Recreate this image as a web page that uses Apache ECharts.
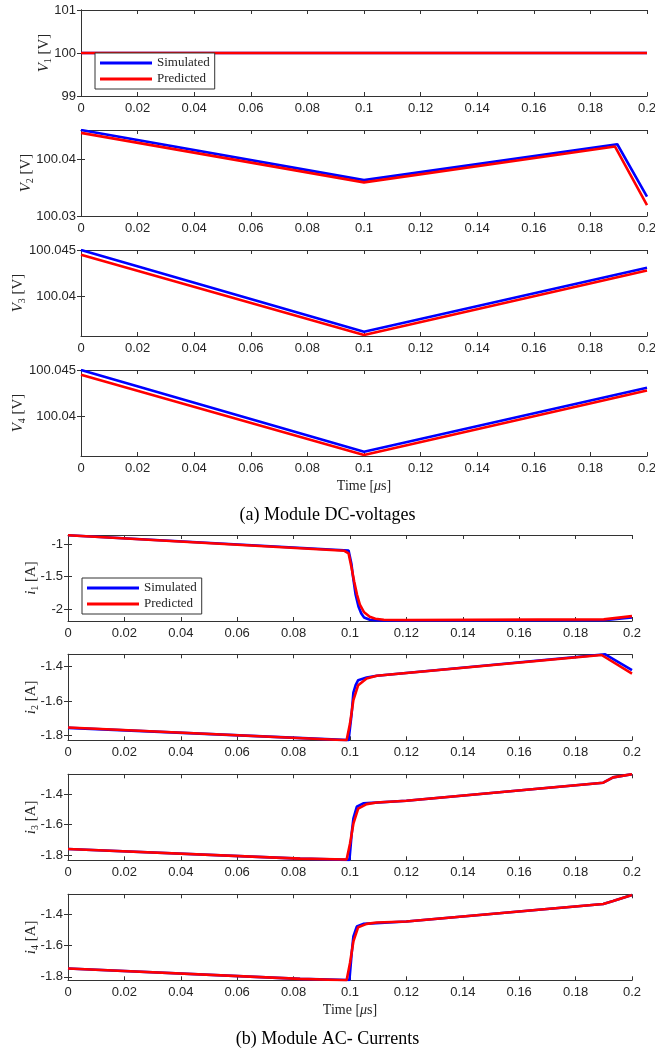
<!DOCTYPE html>
<html><head><meta charset="utf-8">
<script src="https://cdn.jsdelivr.net/npm/echarts@6/dist/echarts.min.js"></script>
<style>html,body{margin:0;padding:0;background:#fff}#c{width:655px;height:1053px}</style>
</head><body><div id="c"></div><script>
// ---------- data ----------
const seriesNames = ['Simulated', 'Predicted'];
const xMin = 0, xMax = 0.2, xStep = 0.02;

const v1Ticks = [99, 100, 101];
const v2Ticks = [100.03, 100.04];
const v3Ticks = [100.04, 100.045];
const v4Ticks = [100.04, 100.045];
const i1Ticks = [-2, -1.5, -1];
const i2Ticks = [-1.8, -1.6, -1.4];
const i3Ticks = [-1.8, -1.6, -1.4];
const i4Ticks = [-1.8, -1.6, -1.4];

const v1SimT = [0, 0.2];
const v1Sim = [100, 100];
const v1PredT = [0, 0.2];
const v1Pred = [100, 100];

const v2SimT = [0, 0.1, 0.1895, 0.2];
const v2Sim = [100.0451, 100.0363, 100.0426, 100.0334];
const v2PredT = [0, 0.1, 0.1887, 0.2];
const v2Pred = [100.0446, 100.0359, 100.0422, 100.0319];

const v3SimT = [0, 0.1, 0.2];
const v3Sim = [100.045, 100.03625, 100.0431];
const v3PredT = [0, 0.1, 0.2];
const v3Pred = [100.0445, 100.0359, 100.0428];

const v4SimT = [0, 0.1, 0.2];
const v4Sim = [100.045, 100.03625, 100.0431];
const v4PredT = [0, 0.1, 0.2];
const v4Pred = [100.0445, 100.0359, 100.0428];

const i1SimT = [0, 0.0995, 0.1, 0.1005, 0.101, 0.102, 0.103, 0.104, 0.105, 0.107, 0.11, 0.19, 0.2];
const i1Sim = [-0.86, -1.095, -1.12, -1.30, -1.48, -1.78, -1.96, -2.07, -2.13, -2.165, -2.175, -2.172, -2.13];
const i1PredT = [0, 0.098, 0.0995, 0.1005, 0.1015, 0.1025, 0.1035, 0.105, 0.107, 0.109, 0.112, 0.12, 0.19, 0.2];
const i1Pred = [-0.86, -1.10, -1.14, -1.35, -1.58, -1.78, -1.93, -2.05, -2.12, -2.15, -2.165, -2.17, -2.16, -2.11];

const i2SimT = [0, 0.0995, 0.1, 0.1006, 0.1012, 0.102, 0.1029, 0.1059, 0.1095, 0.1905, 0.2];
const i2Sim = [-1.755, -1.826, -1.828, -1.67, -1.55, -1.507, -1.478, -1.463, -1.452, -1.328, -1.42];
const i2PredT = [0, 0.0988, 0.1, 0.1012, 0.1029, 0.1059, 0.1095, 0.1892, 0.2];
const i2Pred = [-1.753, -1.827, -1.73, -1.594, -1.507, -1.468, -1.452, -1.332, -1.44];

const i3SimT = [0, 0.0823, 0.0998, 0.1, 0.1006, 0.1012, 0.1024, 0.1047, 0.12, 0.1898, 0.1933, 0.2];
const i3Sim = [-1.759, -1.822, -1.830, -1.833, -1.658, -1.56, -1.483, -1.461, -1.444, -1.326, -1.291, -1.27];
const i3PredT = [0, 0.0823, 0.0988, 0.1, 0.1012, 0.1029, 0.1059, 0.1095, 0.12, 0.1898, 0.1933, 0.2];
const i3Pred = [-1.759, -1.822, -1.828, -1.725, -1.594, -1.495, -1.466, -1.455, -1.444, -1.326, -1.291, -1.27];

const i4SimT = [0, 0.0823, 0.0998, 0.1, 0.1006, 0.1012, 0.1024, 0.1047, 0.12, 0.1898, 0.1933, 0.2];
const i4Sim = [-1.747, -1.813, -1.820, -1.822, -1.648, -1.542, -1.479, -1.462, -1.447, -1.335, -1.316, -1.277];
const i4PredT = [0, 0.0823, 0.0988, 0.1, 0.1012, 0.1029, 0.1059, 0.1095, 0.12, 0.1898, 0.1933, 0.2];
const i4Pred = [-1.747, -1.813, -1.822, -1.712, -1.574, -1.483, -1.462, -1.453, -1.447, -1.335, -1.316, -1.277];

// ---------- layout / style ----------
const AX = '#333333', LBL = '#262626';
const SANS = 'Liberation Sans, Arial, Helvetica, sans-serif';
const SERIF = 'Liberation Serif, Times New Roman, serif';
const pair = (t, v) => t.map((x, i) => [x, v[i]]);

const panels = [
  {left:81, top:10,    width:566, ymin:99,       ymax:101,      ticks:v1Ticks, name:'{i|V}{s|1}{n| [V]}', gap:28, s:[v1SimT,v1Sim], p:[v1PredT,v1Pred]},
  {left:81, top:130,   width:566, ymin:100.03,   ymax:100.0451, ticks:v2Ticks, name:'{i|V}{s|2}{n| [V]}', gap:46, s:[v2SimT,v2Sim], p:[v2PredT,v2Pred]},
  {left:81, top:250,   width:566, ymin:100.0358, ymax:100.045,  ticks:v3Ticks, name:'{i|V}{s|3}{n| [V]}', gap:54, s:[v3SimT,v3Sim], p:[v3PredT,v3Pred]},
  {left:81, top:370,   width:566, ymin:100.0358, ymax:100.045,  ticks:v4Ticks, name:'{i|V}{s|4}{n| [V]}', gap:54, s:[v4SimT,v4Sim], p:[v4PredT,v4Pred], time:true},
  {left:68, top:535,   width:564, ymin:-2.185,   ymax:-0.856,   ticks:i1Ticks, name:'{i|i}{s|1}{n| [A]}', gap:28, s:[i1SimT,i1Sim], p:[i1PredT,i1Pred]},
  {left:68, top:654.3, width:564, ymin:-1.827,   ymax:-1.328,   ticks:i2Ticks, name:'{i|i}{s|2}{n| [A]}', gap:28, s:[i2SimT,i2Sim], p:[i2PredT,i2Pred]},
  {left:68, top:774.3, width:564, ymin:-1.833,   ymax:-1.271,   ticks:i3Ticks, name:'{i|i}{s|3}{n| [A]}', gap:28, s:[i3SimT,i3Sim], p:[i3PredT,i3Pred]},
  {left:68, top:894.3, width:564, ymin:-1.822,   ymax:-1.273,   ticks:i4Ticks, name:'{i|i}{s|4}{n| [A]}', gap:28, s:[i4SimT,i4Sim], p:[i4PredT,i4Pred], time:true}
];

const nameRich = {
  i: {fontFamily: SERIF, fontStyle: 'italic', fontSize: 15, color: LBL, lineHeight: 16, verticalAlign: 'top'},
  s: {fontFamily: SERIF, fontSize: 10, color: LBL, lineHeight: 10, verticalAlign: 'bottom'},
  n: {fontFamily: SERIF, fontSize: 15, color: LBL, lineHeight: 16, verticalAlign: 'top'}
};
const timeRich = {
  t: {fontFamily: SERIF, fontSize: 14, color: LBL},
  m: {fontFamily: SERIF, fontSize: 14, fontStyle: 'italic', color: LBL}
};

const grids = [], xAxes = [], yAxes = [], series = [];
const axisLine = {show: true, lineStyle: {color: AX, width: 1}};
const tickIn = {show: true, inside: true, length: 4, lineStyle: {color: AX, width: 1}};

panels.forEach((P, k) => {
  grids.push({left: P.left, top: P.top, width: P.width, height: 86, containLabel: false, outerBoundsMode: 'none'});
  const xb = {
    gridIndex: k, type: 'value', position: 'bottom', min: xMin, max: xMax, interval: xStep,
    axisLine, axisTick: tickIn, splitLine: {show: false},
    axisLabel: {show: true, color: LBL, fontFamily: SANS, fontSize: 13, margin: 6,
      formatter: v => String(+v.toFixed(2))}
  };
  if (P.time) {
    xb.name = '{t|Time [}{m|μ}{t|s]}';
    xb.nameLocation = 'middle';
    xb.nameGap = 23;
    xb.nameMoveOverlap = false;
    xb.nameTextStyle = {rich: timeRich};
  }
  xAxes.push(xb);
  xAxes.push({gridIndex: k, type: 'value', position: 'top', min: xMin, max: xMax, interval: xStep,
    axisLine, axisTick: tickIn, axisLabel: {show: false}, splitLine: {show: false}});
  yAxes.push({
    gridIndex: k, type: 'value', position: 'left', min: P.ymin, max: P.ymax,
    axisLine, splitLine: {show: false},
    axisTick: {customValues: P.ticks, show: true, inside: true, length: 4, lineStyle: {color: AX, width: 1}},
    axisLabel: {customValues: P.ticks, color: LBL, fontFamily: SANS, fontSize: 13, margin: 5,
      formatter: v => String(+(+v).toFixed(4))},
    name: P.name, nameLocation: 'middle', nameGap: P.gap, nameRotate: 90, nameMoveOverlap: false,
    nameTextStyle: {rich: nameRich}
  });
  yAxes.push({
    gridIndex: k, type: 'value', position: 'right', min: P.ymin, max: P.ymax,
    axisLine, splitLine: {show: false},
    axisTick: {customValues: P.ticks, show: true, inside: true, length: 4, lineStyle: {color: AX, width: 1}},
    axisLabel: {show: false}
  });
  series.push({name: seriesNames[0], type: 'line', xAxisIndex: 2*k, yAxisIndex: 2*k,
    data: pair(P.s[0], P.s[1]), showSymbol: false, symbol: 'none', animation: false,
    lineStyle: {color: '#0000ff', width: 2.6}, itemStyle: {color: '#0000ff'}, z: 3});
  series.push({name: seriesNames[1], type: 'line', xAxisIndex: 2*k, yAxisIndex: 2*k,
    data: pair(P.p[0], P.p[1]), showSymbol: false, symbol: 'none', animation: false,
    lineStyle: {color: '#ff0000', width: 2.6}, itemStyle: {color: '#ff0000'}, z: 4});
});

function legendAt(left, top) {
  return {
    data: seriesNames, left, top, orient: 'vertical', selectedMode: false,
    icon: 'rect', itemWidth: 52, itemHeight: 3, itemGap: 0,
    padding: [2, 5, 2, 5], backgroundColor: '#fff', borderColor: AX, borderWidth: 1,
    textStyle: {fontFamily: SERIF, fontSize: 13, color: LBL, lineHeight: 16},
    z: 10
  };
}

const chart = echarts.init(document.getElementById('c'), null, {renderer: 'canvas'});
chart.setOption({
  animation: false,
  backgroundColor: '#fff',
  grid: grids, xAxis: xAxes, yAxis: yAxes, series,
  legend: [legendAt(95, 53), legendAt(82, 578)],
  graphic: [
    {type: 'text', left: 'center', top: 506, style: {text: '(a) Module DC-voltages', font: '18px ' + SERIF, fill: '#000'}},
    {type: 'text', left: 'center', top: 1030, style: {text: '(b) Module AC- Currents', font: '18px ' + SERIF, fill: '#000'}}
  ]
});
</script></body></html>
